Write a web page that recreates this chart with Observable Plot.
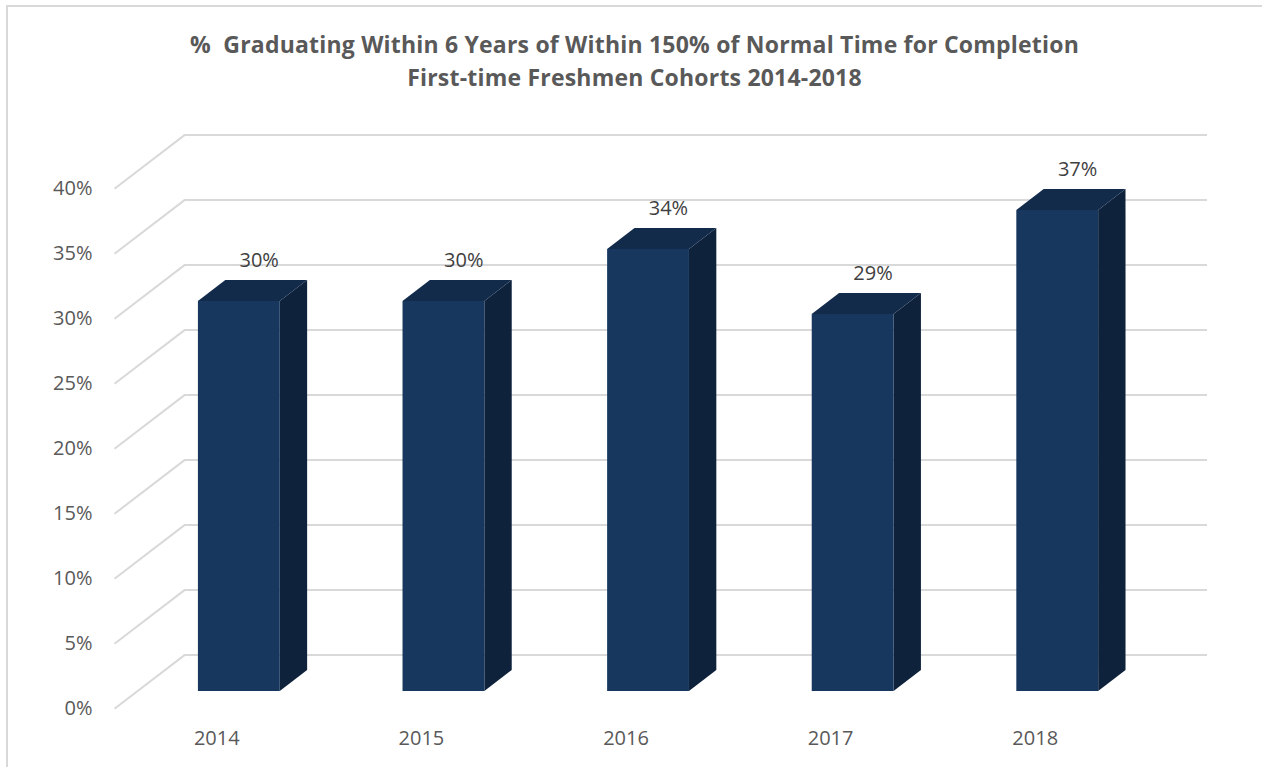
<!DOCTYPE html>
<html>
<head>
<meta charset="utf-8">
<script src="https://cdn.jsdelivr.net/npm/d3@7"></script>
<script src="https://cdn.jsdelivr.net/npm/@observablehq/plot@0.6"></script>
<style>
  html, body { margin: 0; padding: 0; background: #fff; width: 1262px; height: 767px; overflow: hidden; }
  #frame { position: absolute; left: 6px; top: 5px; width: 1300px; height: 800px;
           border-top: 2px solid #d9d9d9; border-left: 2px solid #d9d9d9; box-sizing: border-box; }
  #title { position: absolute; left: 7px; width: 1255px; top: 28px; text-align: center;
           font-family: "Open Sans", sans-serif; font-weight: bold; font-size: 23px;
           letter-spacing: 0.2px; line-height: 33px; color: #595959; }
  #chart { position: absolute; left: 0; top: 100px; }
</style>
</head>
<body>
<div id="frame"></div>
<div id="title">%&nbsp; Graduating Within 6 Years of Within 150% of Normal Time for Completion<br>First-time Freshmen Cohorts 2014-2018</div>
<div id="chart"></div>
<script>
// ---- data ----
const years = ["2014", "2015", "2016", "2017", "2018"];
const rates = [30, 30, 34, 29, 37];
const yTicks = [0, 5, 10, 15, 20, 25, 30, 35, 40];
const yTickLabels = ["0%", "5%", "10%", "15%", "20%", "25%", "30%", "35%", "40%"];

// ---- 3D look (pixel geometry of the Excel-style box) ----
const xDomain = [0, years.length], xRange = [114, 1137];
const yDomain = [0, 40], yRange = [608.3, 88.3];
const pxPerX = (xRange[1] - xRange[0]) / (xDomain[1] - xDomain[0]);
const pxPerY = (yRange[0] - yRange[1]) / (yDomain[1] - yDomain[0]);
const wallDx = 70, wallDy = 53.7;        // full depth of the floor, in pixels
const depth = t => ({ox: t * wallDx / pxPerX, oy: t * wallDy / pxPerY});
const wall = depth(1), bf = depth(0.322), bb = depth(0.713), bm = depth(0.52);
const half = 0.2;

const colFront = "#17375e", colTop = "#132b4b", colSide = "#0f223c", grid = "#d9d9d9";

const bars = years.map((year, i) => ({year, i, v: rates[i]}));
const sidePts = bars.flatMap(d => [
  {i: d.i, x: d.i + 0.5 + half + bf.ox, y1: bf.oy, y2: d.v + bf.oy},
  {i: d.i, x: d.i + 0.5 + half + bb.ox, y1: bb.oy, y2: d.v + bb.oy}
]);
const topPts = bars.flatMap(d => [
  {i: d.i, y: d.v + bf.oy, x1: d.i + 0.5 - half + bf.ox, x2: d.i + 0.5 + half + bf.ox},
  {i: d.i, y: d.v + bb.oy, x1: d.i + 0.5 - half + bb.ox, x2: d.i + 0.5 + half + bb.ox}
]);
const ticks = yTicks.map((v, k) => ({v, label: yTickLabels[k]}));

const font = "'Open Sans', sans-serif";
const plot = Plot.plot({
  width: 1262,
  height: 667,
  x: {type: "linear", domain: xDomain, range: xRange, axis: null},
  y: {type: "linear", domain: yDomain, range: yRange, axis: null},
  style: {fontFamily: font, background: "transparent", overflow: "visible"},
  marks: [
    // back wall gridlines
    Plot.ruleY(ticks, {y: d => d.v + wall.oy, x1: () => wall.ox, x2: () => xDomain[1] + wall.ox,
      stroke: grid, strokeWidth: 2}),
    // side wall gridlines
    Plot.link(ticks, {x1: () => 0, y1: d => d.v, x2: () => wall.ox, y2: d => d.v + wall.oy,
      stroke: grid, strokeWidth: 2}),
    // bar sides, tops, fronts
    Plot.areaY(sidePts, {x: "x", y1: "y1", y2: "y2", z: "i", fill: colSide, curve: "linear"}),
    Plot.areaX(topPts, {y: "y", x1: "x1", x2: "x2", z: "i", fill: colTop, curve: "linear"}),
    Plot.rect(bars, {x1: d => d.i + 0.5 - half + bf.ox, x2: d => d.i + 0.5 + half + bf.ox,
      y1: () => bf.oy, y2: d => d.v + bf.oy, fill: colFront}),
    // data labels
    Plot.text(bars, {x: d => d.i + 0.5 + bm.ox, y: d => d.v + bm.oy, dx: 6, dy: -30,
      text: d => d.v + "%", fill: "#404040", fontSize: 20}),
    // y tick labels
    Plot.text(ticks, {x: () => 0, y: "v", dx: -22, textAnchor: "end", text: "label",
      fill: "#595959", fontSize: 20}),
    // category labels
    Plot.text(bars, {x: d => d.i + 0.5, y: () => 0, dy: 30, text: "year",
      fill: "#595959", fontSize: 20})
  ]
});
document.getElementById("chart").appendChild(plot);
</script>
</body>
</html>
